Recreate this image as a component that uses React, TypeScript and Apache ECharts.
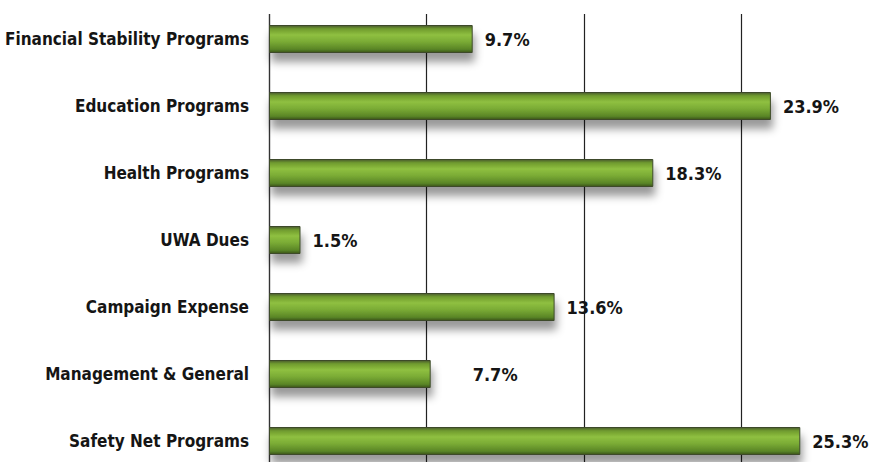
import React, { useEffect, useRef } from "react";
import * as echarts from "echarts";

const categories = [
  "Financial Stability Programs",
  "Education Programs",
  "Health Programs",
  "UWA Dues",
  "Campaign Expense",
  "Management & General",
  "Safety Net Programs",
];
const values = [9.7, 23.9, 18.3, 1.5, 13.6, 7.7, 25.3];
const xTicks = [0, 7.5, 15, 22.5, 30];

const FONT = "'DejaVu Sans Condensed', 'Liberation Sans Narrow', sans-serif";

export default function App() {
  const ref = useRef<HTMLDivElement>(null);
  useEffect(() => {
    if (!ref.current) return;
    const chart = echarts.init(ref.current, null, { renderer: "svg" });
    const barColor = new echarts.graphic.LinearGradient(0, 0, 0, 1, [
      { offset: 0, color: "#4a5a2e" },
      { offset: 0.12, color: "#6f9a2e" },
      { offset: 0.35, color: "#8fc040" },
      { offset: 0.6, color: "#7aab35" },
      { offset: 0.88, color: "#5a8526" },
      { offset: 1, color: "#3b5418" },
    ]);
    chart.setOption({
      animation: false,
      backgroundColor: "#ffffff",
      grid: {
        left: 269,
        right: -4,
        top: 5.5,
        bottom: -12.5,
        containLabel: false,
        outerBoundsMode: "none",
      },
      xAxis: {
        type: "value",
        min: xTicks[0],
        max: xTicks[xTicks.length - 1],
        interval: xTicks[1] - xTicks[0],
        axisLabel: { show: false },
        axisLine: { show: false },
        axisTick: { show: false },
        splitLine: { show: true, lineStyle: { color: "#222", width: 1.2 } },
      },
      yAxis: {
        type: "category",
        inverse: true,
        data: categories,
        axisLine: { show: true, lineStyle: { color: "#333", width: 1.2 } },
        axisTick: { show: false },
        axisLabel: {
          margin: 20,
          fontFamily: FONT,
          fontWeight: "bold",
          fontSize: 17,
          color: "#151515",
        },
      },
      series: [
        {
          type: "bar",
          barWidth: 28,
          data: values.map((v, i) =>
            i === 5 ? { value: v, label: { distance: 42 } } : { value: v }
          ),
          itemStyle: {
            color: barColor,
            borderColor: "#3e4a2a",
            borderWidth: 1,
            shadowColor: "rgba(0,0,0,0.4)",
            shadowBlur: 8,
            shadowOffsetY: 9,
            shadowOffsetX: 2,
          },
          label: {
            show: true,
            position: "right",
            distance: 12,
            formatter: "{c}%",
            fontFamily: FONT,
            fontWeight: "bold",
            fontSize: 18,
            color: "#151515",
          },
        },
      ],
      graphic: [
        {
          type: "rect",
          z: 100,
          shape: { x: 262, y: 0, width: 640, height: 14 },
          style: { fill: "#ffffff" },
        },
      ],
    });
    return () => chart.dispose();
  }, []);
  return (
    <div
      ref={ref}
      style={{ position: "absolute", left: 0, top: 0, width: 895, height: 462 }}
    />
  );
}
